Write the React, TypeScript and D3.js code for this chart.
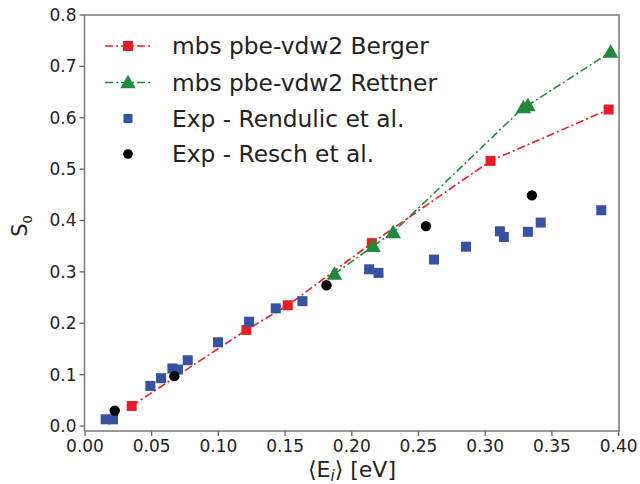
import React from "react";
import * as d3 from "d3";

const bergerX = [0.035, 0.121, 0.152, 0.215, 0.304, 0.3925];
const bergerY = [0.039, 0.187, 0.235, 0.356, 0.516, 0.616];

const rettnerX = [0.187, 0.216, 0.231, 0.3286, 0.332, 0.394];
const rettnerY = [0.296, 0.350, 0.377, 0.620, 0.624, 0.728];

const rendulicX = [0.0155, 0.021, 0.049, 0.057, 0.0655, 0.0697, 0.077, 0.0997, 0.123, 0.143, 0.163, 0.213, 0.220, 0.2616, 0.2856, 0.311, 0.314, 0.332, 0.3416, 0.387];
const rendulicY = [0.013, 0.013, 0.078, 0.093, 0.112, 0.110, 0.128, 0.163, 0.203, 0.229, 0.243, 0.305, 0.298, 0.324, 0.349, 0.379, 0.368, 0.378, 0.396, 0.420];

const reschX = [0.0223, 0.067, 0.181, 0.2556, 0.335];
const reschY = [0.030, 0.097, 0.274, 0.389, 0.449];

const xTicks = [0, 0.05, 0.1, 0.15, 0.2, 0.25, 0.3, 0.35, 0.4];
const yTicks = [0, 0.1, 0.2, 0.3, 0.4, 0.5, 0.6, 0.7, 0.8];

const legendLabels = [
  "mbs pbe-vdw2 Berger",
  "mbs pbe-vdw2 Rettner",
  "Exp - Rendulic et al.",
  "Exp - Resch et al.",
];

const RED = "#ec1c24";
const GREEN = "#1f8a3e";
const BLUE = "#3652a3";
const BLACK = "#000000";
const FONT = "DejaVu Sans, sans-serif";
const DASH = "8,3,2,3";

export default function App() {
  const W = 640, H = 484;
  const left = 84.5, right = 619, top = 15, bottom = 431;
  const x = d3.scaleLinear().domain([0, 0.4]).range([85, 618.6]);
  const y = d3.scaleLinear().domain([0, 0.8]).range([426, 15]);

  const line = d3.line<[number, number]>().x(d => x(d[0])).y(d => y(d[1]));
  const berger: [number, number][] = bergerX.map((v, i) => [v, bergerY[i]]);
  const rettner: [number, number][] = rettnerX.map((v, i) => [v, rettnerY[i]]);

  const sq = 10;
  const tri = (cx: number, cy: number, s: number) =>
    `M${cx},${cy - s * 0.6}L${cx + s * 0.6},${cy + s * 0.45}L${cx - s * 0.6},${cy + s * 0.45}Z`;

  const legendY = [46, 82.5, 118.5, 154];

  return (
    <svg width={W} height={H} style={{ position: "absolute", left: 0, top: 0, background: "#fff" }}>
      <rect x={0} y={0} width={W} height={H} fill="#fff" />
      {yTicks.map(t => (
        <g key={"y" + t}>
          <line x1={left - 5} x2={left} y1={y(t)} y2={y(t)} stroke="#555" strokeWidth={1.2} />
          <text x={left - 8} y={y(t)} dy="0.35em" textAnchor="end" fontFamily={FONT} fontSize={17} fill="#222">
            {t.toFixed(1)}
          </text>
        </g>
      ))}
      {xTicks.map(t => (
        <g key={"x" + t}>
          <line x1={x(t)} x2={x(t)} y1={bottom} y2={bottom + 5} stroke="#555" strokeWidth={1.2} />
          <text x={x(t)} y={bottom + 21} textAnchor="middle" fontFamily={FONT} fontSize={17} fill="#222">
            {t.toFixed(2)}
          </text>
        </g>
      ))}
      <path d={line(berger) || ""} fill="none" stroke={RED} strokeWidth={1.6} strokeDasharray={DASH} />
      <path d={line(rettner) || ""} fill="none" stroke={GREEN} strokeWidth={1.6} strokeDasharray={DASH} />
      {berger.map((d, i) => (
        <rect key={"b" + i} x={x(d[0]) - sq / 2} y={y(d[1]) - sq / 2} width={sq} height={sq} fill={RED} />
      ))}
      {rettner.map((d, i) => (
        <path key={"r" + i} d={tri(x(d[0]), y(d[1]), 13)} fill={GREEN} />
      ))}
      {rendulicX.map((v, i) => (
        <rect key={"re" + i} x={x(v) - sq / 2} y={y(rendulicY[i]) - sq / 2} width={sq} height={sq} fill={BLUE} />
      ))}
      {reschX.map((v, i) => (
        <circle key={"rs" + i} cx={x(v)} cy={y(reschY[i])} r={5.2} fill={BLACK} />
      ))}
      <rect x={left} y={top} width={right - left} height={bottom - top} fill="none" stroke="#777" strokeWidth={1.5} />
      {legendLabels.map((lab, i) => {
        const ly = legendY[i];
        return (
          <g key={"l" + i}>
            {i < 2 && (
              <line x1={105} x2={152} y1={ly} y2={ly} stroke={i === 0 ? RED : GREEN} strokeWidth={1.6} strokeDasharray={DASH} />
            )}
            {i === 0 && <rect x={128 - sq / 2} y={ly - sq / 2} width={sq} height={sq} fill={RED} />}
            {i === 1 && <path d={tri(128, ly, 13)} fill={GREEN} />}
            {i === 2 && <rect x={128 - 4.5} y={ly - 4.5} width={9} height={9} fill={BLUE} />}
            {i === 3 && <circle cx={128} cy={ly} r={4.8} fill={BLACK} />}
            <text x={172} y={ly} dy="0.36em" fontFamily={FONT} fontSize={23.3} fill="#222">
              {lab}
            </text>
          </g>
        );
      })}
      <text x={352} y={477} textAnchor="middle" fontFamily={FONT} fontSize={22} fill="#222">
        {"⟨E"}
        <tspan fontStyle="italic" fontSize={15} dy={4}>i</tspan>
        <tspan dy={-4}>{"⟩ [eV]"}</tspan>
      </text>
      <text transform="translate(27,226) rotate(-90)" textAnchor="middle" fontFamily={FONT} fontSize={21} fill="#222">
        S
        <tspan fontSize={13} dy={5}>0</tspan>
      </text>
    </svg>
  );
}
